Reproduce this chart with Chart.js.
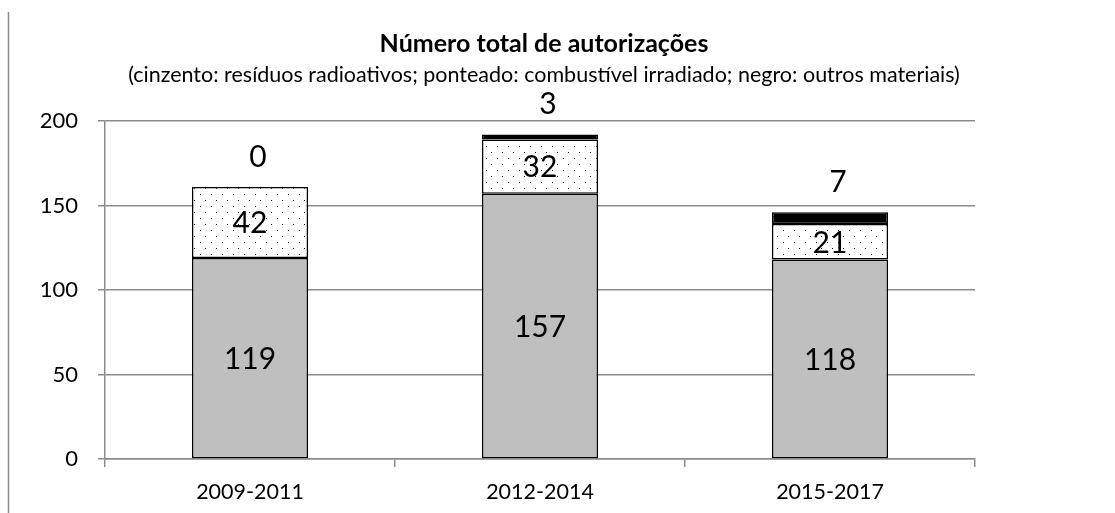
<!DOCTYPE html>
<html><head><meta charset="utf-8">
<script src="https://cdn.jsdelivr.net/npm/chart.js@4"></script>
<style>html,body{margin:0;padding:0;background:#fff}#wrap{width:1115px;height:513px;position:relative}</style>
</head><body><div id="wrap"><canvas id="c" width="1115" height="513"></canvas></div>
<script>
const categories = ['2009-2011', '2012-2014', '2015-2017'];
const radioactiveWaste = [119, 157, 118];
const irradiatedFuel = [42, 32, 21];
const otherMaterials = [0, 3, 7];
const yMax = 200;
const yStep = 50;
const chartTitle = 'Número total de autorizações';
const chartSubtitle = '(cinzento: resíduos radioativos; ponteado: combustível irradiado; negro: outros materiais)';

const FONT = 'Lato, "Open Sans", sans-serif';

function makeDots() {
  const p = document.createElement('canvas');
  p.width = 11; p.height = 12;
  const g = p.getContext('2d');
  g.fillStyle = '#fff'; g.fillRect(0, 0, 11, 12);
  g.fillStyle = '#000';
  g.fillRect(2, 2, 1, 1);
  g.fillRect(7, 8, 1, 1);
  return document.getElementById('c').getContext('2d').createPattern(p, 'repeat');
}

const labelsPlugin = {
  id: 'valueLabels',
  afterDatasetsDraw(chart) {
    const ctx = chart.ctx;
    ctx.save();
    ctx.fillStyle = '#000';
    ctx.font = '30px ' + FONT;
    ctx.textAlign = 'center';
    ctx.textBaseline = 'middle';
    chart.data.datasets.forEach((ds, di) => {
      const meta = chart.getDatasetMeta(di);
      meta.data.forEach((bar, i) => {
        const v = ds.data[i];
        if (di < 2) {
          ctx.fillText(String(v), bar.x, (bar.y + bar.base) / 2 + 1);
        } else {
          ctx.fillText(String(v), bar.x + 8, bar.y - 30);
        }
      });
    });
    ctx.restore();
  }
};

const decoPlugin = {
  id: 'deco',
  afterDraw(chart) {
    const ctx = chart.ctx;
    ctx.save();
    ctx.strokeStyle = '#8c8c8c';
    ctx.lineWidth = 1.5;
    ctx.beginPath();
    ctx.moveTo(8.5, 12);
    ctx.lineTo(8.5, 513);
    ctx.stroke();
    ctx.fillStyle = '#000';
    ctx.textAlign = 'center';
    ctx.textBaseline = 'middle';
    ctx.font = 'bold 25px ' + FONT;
    ctx.fillText(chartTitle, 544, 44);
    ctx.font = '21.5px ' + FONT;
    ctx.fillText(chartSubtitle, 544, 75);
    ctx.restore();
  }
};

new Chart(document.getElementById('c'), {
  type: 'bar',
  data: {
    labels: categories,
    datasets: [
      { label: 'resíduos radioativos', data: radioactiveWaste, backgroundColor: '#bfbfbf', borderColor: '#000', borderWidth: 1.5, borderSkipped: false },
      { label: 'combustível irradiado', data: irradiatedFuel, backgroundColor: makeDots(), borderColor: '#000', borderWidth: 1.5, borderSkipped: false },
      { label: 'outros materiais', data: otherMaterials, backgroundColor: '#000', borderColor: '#000', borderWidth: 1.5, borderSkipped: false }
    ]
  },
  options: {
    responsive: false,
    animation: false,
    layout: { padding: { left: 20, right: 140, top: 121, bottom: 5 } },
    datasets: { bar: { categoryPercentage: 1, barPercentage: 0.4 } },
    plugins: { legend: { display: false }, tooltip: { enabled: false }, title: { display: false } },
    scales: {
      x: {
        stacked: true,
        grid: { display: true, drawOnChartArea: false, drawTicks: true, tickLength: 8, color: '#8c8c8c', lineWidth: 1.5, offset: true },
        border: { display: true, color: '#8c8c8c', width: 1.5 },
        ticks: { color: '#000', font: { family: FONT, size: 21.5 }, padding: 12 },
        afterFit(s) { s.height = 49; }
      },
      y: {
        stacked: true,
        min: 0, max: yMax,
        grid: { color: '#8c8c8c', lineWidth: 1.5, tickLength: 7, drawTicks: true },
        border: { display: true, color: '#8c8c8c', width: 1.5 },
        ticks: { stepSize: yStep, color: '#000', font: { family: FONT, size: 22 }, padding: 20 },
        afterFit(s) { s.width = 85; }
      }
    }
  },
  plugins: [labelsPlugin, decoPlugin]
});
</script>
</body></html>
